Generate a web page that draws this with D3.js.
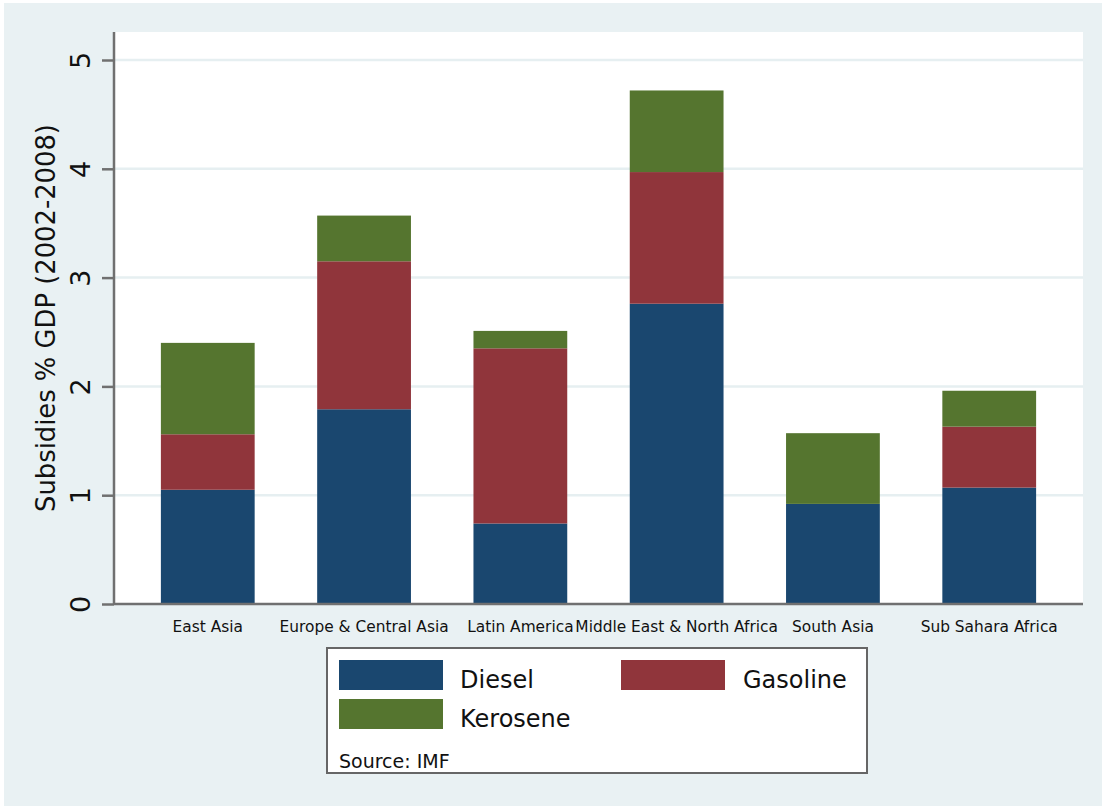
<!DOCTYPE html>
<html>
<head>
<meta charset="utf-8">
<script src="https://cdn.jsdelivr.net/npm/d3@7"></script>
<style>
  html, body { margin: 0; padding: 0; background: #ffffff; }
  svg { display: block; }
  text { font-family: "DejaVu Sans", sans-serif; }
</style>
</head>
<body>
<svg id="chart" width="1102" height="807"></svg>
<script>
// ---- data ----
const regions = ["East Asia", "Europe & Central Asia", "Latin America", "Middle East & North Africa", "South Asia", "Sub Sahara Africa"];
const fuels = ["Diesel", "Gasoline", "Kerosene"];
const diesel   = [1.05, 1.79, 0.74, 2.76, 0.92, 1.07];
const gasoline = [0.51, 1.36, 1.61, 1.21, 0.00, 0.56];
const kerosene = [0.84, 0.42, 0.16, 0.75, 0.65, 0.33];
const yTicks = [0, 1, 2, 3, 4, 5];
const yTitle = "Subsidies % GDP (2002-2008)";
const note = "Source: IMF";
const colors = ["#1a476f", "#90353b", "#55752f"];

const rows = regions.map((r, i) => ({ region: r, Diesel: diesel[i], Gasoline: gasoline[i], Kerosene: kerosene[i] }));
const stacked = d3.stack().keys(fuels)(rows);

const svg = d3.select("#chart");
const bg = "#e9f1f3";

// outer background
svg.append("rect").attr("x", 4).attr("y", 3).attr("width", 1098).attr("height", 803).attr("fill", bg);

const plot = { left: 114, right: 1083, top: 32, bottom: 604 };
svg.append("rect").attr("x", plot.left).attr("y", plot.top)
  .attr("width", plot.right - plot.left).attr("height", plot.bottom - plot.top).attr("fill", "#ffffff");

const x = d3.scaleBand().domain(regions).range([plot.left, plot.right]).paddingInner(0.4).paddingOuter(0.3);
const y = d3.scaleLinear().domain([0, 5]).range([plot.bottom, 60]);

// gridlines
svg.append("g").selectAll("line").data(yTicks.filter(t => t > 0)).join("line")
  .attr("x1", plot.left).attr("x2", plot.right)
  .attr("y1", d => y(d)).attr("y2", d => y(d))
  .attr("stroke", "#e6eff1").attr("stroke-width", 2.5);

// bars
const color = d3.scaleOrdinal().domain(fuels).range(colors);
svg.append("g").selectAll("g").data(stacked).join("g")
  .attr("fill", d => color(d.key))
  .selectAll("rect").data(d => d).join("rect")
  .attr("x", d => x(d.data.region))
  .attr("width", x.bandwidth())
  .attr("y", d => y(d[1]))
  .attr("height", d => y(d[0]) - y(d[1]));

// y axis
const yAxis = d3.axisLeft(y).tickValues(yTicks).tickFormat(d3.format("d")).tickSize(12).tickPadding(0);
const yg = svg.append("g").attr("transform", `translate(${plot.left},0)`).call(yAxis);
yg.select(".domain").attr("d", `M0,${plot.top}V${plot.bottom + 1}`).attr("stroke", "#707070").attr("stroke-width", 2.5);
yg.selectAll(".tick line").attr("stroke", "#707070").attr("stroke-width", 2.5);
yg.selectAll(".tick text")
  .attr("x", null).attr("dy", null)
  .attr("transform", "translate(-24,0) rotate(-90)")
  .attr("text-anchor", "middle")
  .attr("font-size", 27).attr("fill", "#111")
  .attr("font-family", "DejaVu Sans, sans-serif");

// x axis
const xAxis = d3.axisBottom(x).tickSize(0).tickPadding(0);
const xg = svg.append("g").attr("transform", `translate(0,${plot.bottom})`).call(xAxis);
xg.select(".domain").attr("d", `M${plot.left},0H${plot.right}`).attr("stroke", "#707070").attr("stroke-width", 2.5);
xg.selectAll(".tick text")
  .attr("y", 28).attr("dy", null)
  .attr("font-size", 15.4).attr("fill", "#111")
  .attr("font-family", "DejaVu Sans, sans-serif");

// y title
svg.append("text")
  .attr("transform", `translate(55,${(plot.top + plot.bottom) / 2}) rotate(-90)`)
  .attr("text-anchor", "middle")
  .attr("font-size", 25.8).attr("fill", "#111")
  .text(yTitle);

// legend
const lg = svg.append("g");
lg.append("rect").attr("x", 327).attr("y", 648).attr("width", 540).attr("height", 125)
  .attr("fill", "#ffffff").attr("stroke", "#666").attr("stroke-width", 2);
const legPos = [
  { sx: 339, sy: 660, tx: 460, ty: 688 },
  { sx: 621, sy: 660, tx: 743, ty: 688 },
  { sx: 339, sy: 699, tx: 460, ty: 727 }
];
fuels.forEach((f, i) => {
  const p = legPos[i];
  lg.append("rect").attr("x", p.sx).attr("y", p.sy).attr("width", 104).attr("height", 30)
    .attr("fill", color(f));
  lg.append("text").attr("x", p.tx).attr("y", p.ty).attr("font-size", 24).attr("fill", "#111").text(f);
});
lg.append("text").attr("x", 339).attr("y", 768).attr("font-size", 19).attr("fill", "#111").text(note);
</script>
</body>
</html>
